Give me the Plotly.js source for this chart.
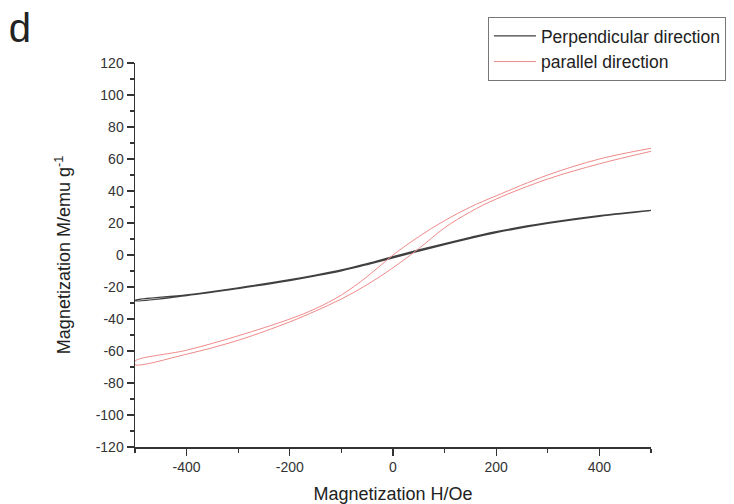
<!DOCTYPE html>
<html>
<head>
<meta charset="utf-8">
<script src="https://cdn.plot.ly/plotly-3.0.1.min.js"></script>
<style>html,body{margin:0;padding:0;background:#fff;}#chart{width:734px;height:504px;}</style>
</head>
<body>
<div id="chart"></div>
<script>
// Applied field (Oe), ascending order
var fieldOe = [-500, -400, -300, -200, -150, -100, -50, 0, 50, 100, 150, 200, 300, 400, 500];

// Perpendicular direction: descending-field branch (upper) and ascending-field branch (lower)
var perpUpper = [-28.3, -24.9, -20.5, -15.4, -12.5, -9.3, -5.4, -1.0, 3.2, 7.2, 11.0, 14.6, 20.2, 24.6, 27.9];
var perpLower = [-28.6, -25.4, -21.0, -16.0, -13.1, -9.9, -6.0, -1.8, 2.4, 6.5, 10.4, 14.0, 19.7, 24.2, 27.7];

// Parallel direction
var paraUpper = [-66.3, -59.5, -50.5, -40.0, -33.5, -25.0, -13.5, 0.0, 11.5, 21.5, 30.0, 37.0, 50.0, 60.0, 66.7];
var paraLower = [-68.5, -62.0, -53.3, -41.8, -35.0, -27.5, -18.5, -8.0, 4.0, 17.0, 27.0, 35.0, 47.5, 57.0, 64.8];

var seriesNames = ['Perpendicular direction', 'parallel direction'];

var yTickVals = [-120, -100, -80, -60, -40, -20, 0, 20, 40, 60, 80, 100, 120];
var yTickText = ['-120', '-100', '-80', '-60', '-40', '-20', '0', '20', '40', '60', '80', '100', '120'];
var xTickVals = [-400, -200, 0, 200, 400];
var xTickText = ['-400', '-200', '0', '200', '400'];

function loop(xs, up, lo) {
  var xd = xs.slice().reverse();
  var yd = up.slice().reverse();
  return { x: xd.concat(xs), y: yd.concat(lo) };
}

var perp = loop(fieldOe, perpUpper, perpLower);
var para = loop(fieldOe, paraUpper, paraLower);

var traces = [
  { x: perp.x, y: perp.y, name: seriesNames[0], type: 'scatter', mode: 'lines',
    line: { color: '#404040', width: 1.2, shape: 'spline', smoothing: 1 } },
  { x: para.x, y: para.y, name: seriesNames[1], type: 'scatter', mode: 'lines',
    line: { color: '#ef8a8a', width: 1, shape: 'spline', smoothing: 1 } }
];

var fontFam = '"Liberation Sans", Arial, sans-serif';
var layout = {
  width: 734, height: 504,
  margin: { l: 135, r: 83, t: 63, b: 57, pad: 0, autoexpand: false },
  paper_bgcolor: '#ffffff', plot_bgcolor: '#ffffff',
  font: { family: fontFam, color: '#333333', size: 14 },
  title: { text: 'd', font: { family: fontFam, size: 40, color: '#222222' },
           x: 0.012, xanchor: 'left', xref: 'container', y: 0.972, yanchor: 'top', yref: 'container' },
  showlegend: true,
  legend: { x: 0.684, xanchor: 'left', y: 1.12, yanchor: 'top',
            bordercolor: '#777777', borderwidth: 1, bgcolor: '#ffffff',
            font: { family: fontFam, size: 17.5, color: '#222222' },
            itemwidth: 42, tracegroupgap: 0 },
  xaxis: {
    range: [-500, 500], showgrid: false, zeroline: false,
    showline: true, linecolor: '#333333', linewidth: 1.5,
    ticks: 'outside', ticklen: 7, tickwidth: 1.3, tickcolor: '#333333',
    tickvals: xTickVals, ticktext: xTickText,
    tickfont: { family: fontFam, size: 14, color: '#333333' },
    minor: { dtick: 100, tick0: 0, ticks: 'outside', ticklen: 4, tickwidth: 1.2, tickcolor: '#333333', showgrid: false },
    title: { text: 'Magnetization H/Oe', font: { family: fontFam, size: 18, color: '#222222' }, standoff: 14 }
  },
  yaxis: {
    range: [-120, 120], showgrid: false, zeroline: false,
    showline: true, linecolor: '#333333', linewidth: 1.5,
    ticks: 'outside', ticklen: 7, tickwidth: 1.3, tickcolor: '#333333',
    tickvals: yTickVals, ticktext: yTickText,
    tickfont: { family: fontFam, size: 14, color: '#333333' },
    minor: { dtick: 10, tick0: 0, ticks: 'outside', ticklen: 4, tickwidth: 1.2, tickcolor: '#333333', showgrid: false },
    title: { text: 'Magnetization M/emu g<sup>-1</sup>', font: { family: fontFam, size: 18, color: '#222222' }, standoff: 20 }
  }
};

Plotly.newPlot('chart', traces, layout, { displayModeBar: false, staticPlot: true });
</script>
</body>
</html>
